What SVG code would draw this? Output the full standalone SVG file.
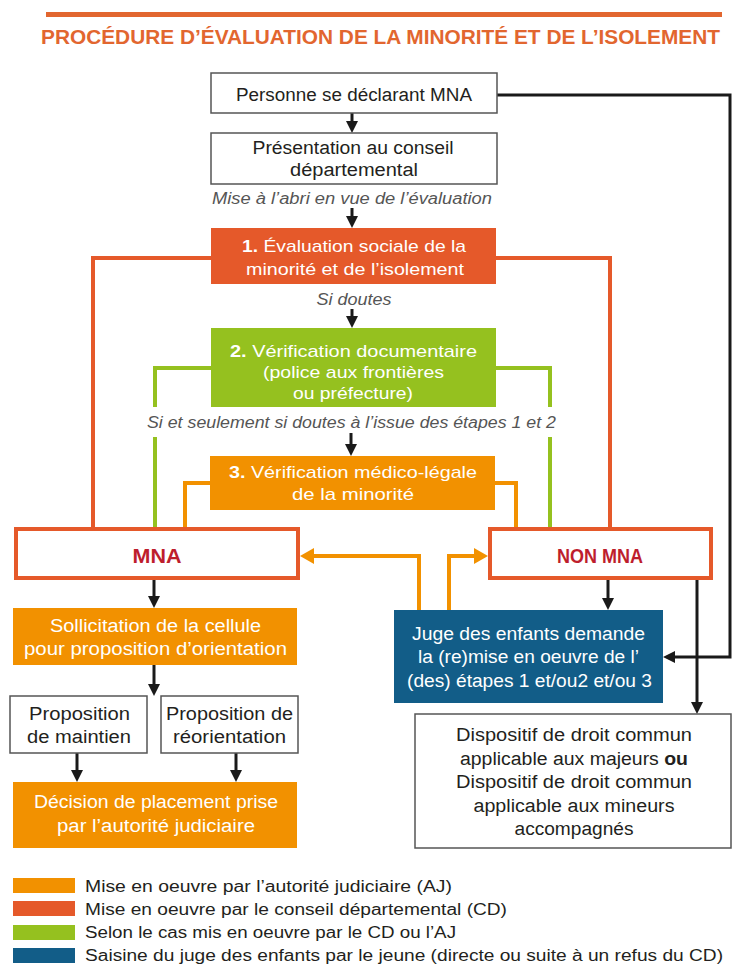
<svg xmlns="http://www.w3.org/2000/svg" width="733" height="964" viewBox="0 0 733 964">
<defs>
<style>
text{font-family:"Liberation Sans",Arial,sans-serif;fill:#231f20;font-size:18px}
.c{text-anchor:middle}
.w{fill:#ffffff;font-size:17px}
.wb{font-weight:bold}
.it{font-style:italic;fill:#555555;font-size:16px}
.box{fill:#ffffff;stroke:#555555;stroke-width:1.5}
.cd{fill:#e5592a}
.aj{fill:#f29100}
.gr{fill:#95c11f}
.bl{fill:#125d88}
.res{fill:#ffffff;stroke:#e5592a;stroke-width:4}
.rt{fill:#be1e2d;font-weight:bold;font-size:21px}
.lcd{fill:none;stroke:#e5592a;stroke-width:4}
.lgr{fill:none;stroke:#95c11f;stroke-width:4}
.laj{fill:none;stroke:#f29100;stroke-width:4}
.lbk{fill:none;stroke:#1a1a1a;stroke-width:3}
.lg{font-size:16px}
</style>
<marker id="ab" viewBox="0 0 12 12" markerWidth="12" markerHeight="12" markerUnits="userSpaceOnUse" refX="0" refY="6" orient="auto"><path d="M0,0 L12,6 L0,12 z" fill="#1a1a1a"/></marker>
<marker id="ao" viewBox="0 0 14 16" markerWidth="14" markerHeight="16" markerUnits="userSpaceOnUse" refX="0" refY="8" orient="auto"><path d="M0,0 L14,8 L0,16 z" fill="#f29100"/></marker>
</defs>
<rect width="733" height="964" fill="#ffffff"/>

<g id="title">
<rect x="46" y="12" width="676" height="5" fill="#e2662f"/>
<text transform="translate(380.5,44) scale(1,1.15)" x="0" y="0" class="c" style="fill:#e2662f;font-weight:bold;font-size:18px" textLength="679" lengthAdjust="spacingAndGlyphs">PROCÉDURE D’ÉVALUATION DE LA MINORITÉ ET DE L’ISOLEMENT</text>
</g>

<g id="connectors">
<path class="lcd" d="M212,258 H93 V528"/>
<path class="lcd" d="M496,258 H610 V528"/>
<path class="lgr" d="M211,368 H155 V407"/>
<path class="lgr" d="M155,437 V528"/>
<path class="lgr" d="M496,368 H550 V407"/>
<path class="lgr" d="M550,437 V528"/>
<path class="laj" d="M210,483 H185 V528"/>
<path class="laj" d="M495,483 H516 V528"/>
<path class="laj" d="M419,610 V556 H314" marker-end="url(#ao)"/>
<path class="laj" d="M449,610 V556 H474" marker-end="url(#ao)"/>
<path class="lbk" d="M352,113 V121" marker-end="url(#ab)"/>
<path class="lbk" d="M352,208 V216" marker-end="url(#ab)"/>
<path class="lbk" d="M352,309 V316" marker-end="url(#ab)"/>
<path class="lbk" d="M351,433 V444" marker-end="url(#ab)"/>
<path class="lbk" d="M154,580 V596" marker-end="url(#ab)"/>
<path class="lbk" d="M154,665 V684" marker-end="url(#ab)"/>
<path class="lbk" d="M77,753 V770" marker-end="url(#ab)"/>
<path class="lbk" d="M236,753 V770" marker-end="url(#ab)"/>
<path class="lbk" d="M608,580 V598" marker-end="url(#ab)"/>
<path class="lbk" d="M697,580 V702" marker-end="url(#ab)"/>
<path class="lbk" d="M497,95 H730 V657 H675" marker-end="url(#ab)"/>
</g>

<g id="personne">
<rect class="box" x="211" y="73" width="286" height="40"/>
<text x="354" y="101" class="c" textLength="236" lengthAdjust="spacingAndGlyphs">Personne se déclarant MNA</text>
</g>

<g id="presentation">
<rect class="box" x="211" y="133" width="286" height="51"/>
<text x="353" y="154" class="c" textLength="201" lengthAdjust="spacingAndGlyphs">Présentation au conseil</text>
<text x="354" y="176" class="c" textLength="128" lengthAdjust="spacingAndGlyphs">départemental</text>
</g>

<g id="label-abri">
<text x="352" y="204" class="c it" textLength="280" lengthAdjust="spacingAndGlyphs">Mise à l’abri en vue de l’évaluation</text>
</g>

<g id="etape1">
<rect class="cd" x="211" y="228" width="285" height="56"/>
<text x="354" y="252" class="c w" textLength="224" lengthAdjust="spacingAndGlyphs"><tspan class="wb">1.</tspan> Évaluation sociale de la</text>
<text x="355" y="275" class="c w" textLength="218" lengthAdjust="spacingAndGlyphs">minorité et de l’isolement</text>
</g>

<g id="label-doutes">
<text x="354" y="305" class="c it" textLength="75" lengthAdjust="spacingAndGlyphs">Si doutes</text>
</g>

<g id="etape2">
<rect class="gr" x="211" y="328" width="285" height="79"/>
<text x="353.5" y="357" class="c w" textLength="247" lengthAdjust="spacingAndGlyphs"><tspan class="wb">2.</tspan> Vérification documentaire</text>
<text x="353.5" y="378" class="c w" textLength="181" lengthAdjust="spacingAndGlyphs">(police aux frontières</text>
<text x="353" y="399" class="c w" textLength="120" lengthAdjust="spacingAndGlyphs">ou préfecture)</text>
</g>

<g id="label-seulement">
<text x="351.5" y="428" class="c it" textLength="409" lengthAdjust="spacingAndGlyphs">Si et seulement si doutes à l’issue des étapes 1 et 2</text>
</g>

<g id="etape3">
<rect class="aj" x="210" y="456" width="285" height="54"/>
<text x="353" y="478" class="c w" textLength="248" lengthAdjust="spacingAndGlyphs"><tspan class="wb">3.</tspan> Vérification médico-légale</text>
<text x="353" y="500" class="c w" textLength="122" lengthAdjust="spacingAndGlyphs">de la minorité</text>
</g>

<g id="mna">
<rect class="res" x="16" y="529" width="282" height="49"/>
<text x="157" y="563" class="c rt" textLength="49" lengthAdjust="spacingAndGlyphs">MNA</text>
</g>

<g id="non-mna">
<rect class="res" x="490" y="529" width="221" height="49"/>
<text x="600" y="563" class="c rt" textLength="86" lengthAdjust="spacingAndGlyphs">NON MNA</text>
</g>

<g id="sollicitation">
<rect class="aj" x="13" y="608" width="284" height="57"/>
<text x="155.5" y="632" class="c w" style="font-size:18px" textLength="211" lengthAdjust="spacingAndGlyphs">Sollicitation de la cellule</text>
<text x="155.5" y="655" class="c w" style="font-size:18px" textLength="263" lengthAdjust="spacingAndGlyphs">pour proposition d’orientation</text>
</g>

<g id="maintien">
<rect class="box" x="10" y="696" width="137" height="57"/>
<text x="79.5" y="720" class="c" textLength="101" lengthAdjust="spacingAndGlyphs">Proposition</text>
<text x="79" y="743" class="c" textLength="104" lengthAdjust="spacingAndGlyphs">de maintien</text>
</g>

<g id="reorientation">
<rect class="box" x="161" y="696" width="137" height="57"/>
<text x="229.5" y="720" class="c" textLength="127" lengthAdjust="spacingAndGlyphs">Proposition de</text>
<text x="229.5" y="743" class="c" textLength="113" lengthAdjust="spacingAndGlyphs">réorientation</text>
</g>

<g id="decision">
<rect class="aj" x="13" y="782" width="284" height="66"/>
<text x="156" y="808" class="c w" style="font-size:18px" textLength="244" lengthAdjust="spacingAndGlyphs">Décision de placement prise</text>
<text x="156" y="832" class="c w" style="font-size:18px" textLength="198" lengthAdjust="spacingAndGlyphs">par l’autorité judiciaire</text>
</g>

<g id="juge">
<rect class="bl" x="394" y="610" width="269" height="93"/>
<text x="528.5" y="640" class="c w" style="font-size:18px" textLength="233" lengthAdjust="spacingAndGlyphs">Juge des enfants demande</text>
<text x="528.5" y="663" class="c w" style="font-size:18px" textLength="221" lengthAdjust="spacingAndGlyphs">la (re)mise en oeuvre de l’</text>
<text x="529.5" y="687" class="c w" style="font-size:18px" textLength="245" lengthAdjust="spacingAndGlyphs">(des) étapes 1 et/ou2 et/ou 3</text>
</g>

<g id="dispositif">
<rect class="box" x="415" y="714" width="316" height="134"/>
<text x="574" y="741" class="c" textLength="236" lengthAdjust="spacingAndGlyphs">Dispositif de droit commun</text>
<text x="574" y="765" class="c" textLength="228" lengthAdjust="spacingAndGlyphs">applicable aux majeurs <tspan font-weight="bold">ou</tspan></text>
<text x="574" y="788" class="c" textLength="236" lengthAdjust="spacingAndGlyphs">Dispositif de droit commun</text>
<text x="574" y="812" class="c" textLength="201" lengthAdjust="spacingAndGlyphs">applicable aux mineurs</text>
<text x="574" y="835" class="c" textLength="119" lengthAdjust="spacingAndGlyphs">accompagnés</text>
</g>

<g id="legend">
<rect class="aj" x="13" y="878" width="62" height="15"/>
<text x="85" y="892" class="lg" textLength="367" lengthAdjust="spacingAndGlyphs">Mise en oeuvre par l’autorité judiciaire (AJ)</text>
<rect class="cd" x="13" y="901" width="62" height="15"/>
<text x="85" y="915" class="lg" textLength="422" lengthAdjust="spacingAndGlyphs">Mise en oeuvre par le conseil départemental (CD)</text>
<rect class="gr" x="13" y="925" width="62" height="15"/>
<text x="85" y="938" class="lg" textLength="371" lengthAdjust="spacingAndGlyphs">Selon le cas mis en oeuvre par le CD ou l’AJ</text>
<rect class="bl" x="13" y="948" width="62" height="15"/>
<text x="85" y="961" class="lg" textLength="638" lengthAdjust="spacingAndGlyphs">Saisine du juge des enfants par le jeune (directe ou suite à un refus du CD)</text>
</g>
</svg>
